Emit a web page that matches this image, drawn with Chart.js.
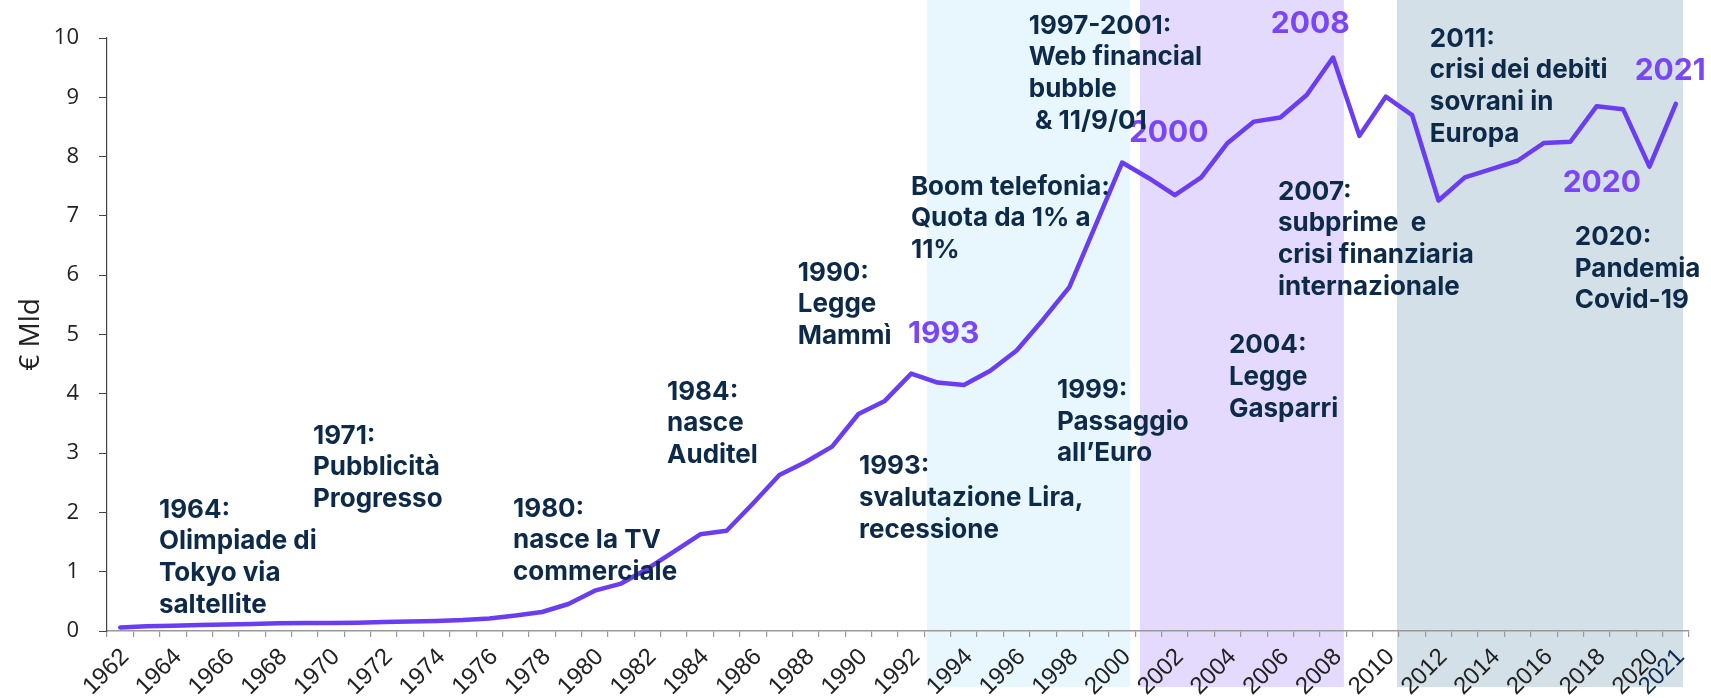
<!DOCTYPE html>
<html><head><meta charset="utf-8">
<script src="https://cdn.jsdelivr.net/npm/chart.js@4.4.0/dist/chart.umd.min.js"></script>
<style>html,body{margin:0;padding:0;background:#fff;}#wrap{width:1711px;height:698px;}</style>
</head><body><div id="wrap"><canvas id="c" width="1711" height="698"></canvas></div>
<script>
const years = [1962,1963,1964,1965,1966,1967,1968,1969,1970,1971,1972,1973,1974,1975,1976,1977,1978,1979,1980,1981,1982,1983,1984,1985,1986,1987,1988,1989,1990,1991,1992,1993,1994,1995,1996,1997,1998,1999,2000,2001,2002,2003,2004,2005,2006,2007,2008,2009,2010,2011,2012,2013,2014,2015,2016,2017,2018,2019,2020,2021];
const values = [0.06,0.08,0.09,0.10,0.11,0.12,0.13,0.135,0.135,0.14,0.15,0.16,0.17,0.185,0.21,0.26,0.32,0.455,0.68,0.80,1.05,1.34,1.63,1.69,2.15,2.63,2.85,3.11,3.66,3.88,4.34,4.19,4.15,4.39,4.73,5.25,5.80,6.85,7.90,7.64,7.35,7.65,8.23,8.59,8.66,9.04,9.67,8.35,9.01,8.70,7.26,7.65,7.79,7.93,8.23,8.25,8.85,8.80,7.83,8.89];
const labelledYears = [1962,1964,1966,1968,1970,1972,1974,1976,1978,1980,1982,1984,1986,1988,1990,1992,1994,1996,1998,2000,2002,2004,2006,2008,2010,2012,2014,2016,2018,2020,2021];
const yTicks = [0,1,2,3,4,5,6,7,8,9,10];
const periodStart = [1993, 2001, 2011];
const periodEnd = [2000, 2008, 2021];
const highlightText = ['1993','2000','2008','2020','2021'];
const noteTexts = [
  ['1964:','Olimpiade di','Tokyo via','saltellite'],
  ['1971:','Pubblicità','Progresso'],
  ['1980:','nasce la TV','commerciale'],
  ['1984:','nasce','Auditel'],
  ['1990:','Legge','Mammì'],
  ['1993:','svalutazione Lira,','recessione'],
  ['Boom telefonia:','Quota da 1% a','11%'],
  ['1997-2001:','Web financial','bubble',' & 11/9/01'],
  ['1999:','Passaggio','all’Euro'],
  ['2004:','Legge','Gasparri'],
  ['2007:','subprime  e','crisi finanziaria','internazionale'],
  ['2011:','crisi dei debiti','sovrani in','Europa'],
  ['2020:','Pandemia','Covid-19']
];

// layout (anchor in axis units: category index, value)
const highlightAnchor = [[29.88,4.86],[38.26,8.24],[43.64,10.08],[54.71,7.41],[57.44,9.30]];
const noteAnchor = [[1.47,1.91],[7.31,3.16],[14.9,1.93],[20.74,3.90],[25.7,5.91],[28.02,2.64],[29.99,7.355],[34.46,10.07],[35.53,3.93],[42.05,4.68],[43.91,7.27],[49.67,9.853],[55.17,6.51]];
const bandColors = ['#E8F7FE','#E3DAFD','#D3E0E7'];
const bandInset = [[2.5,5.4],[4.6,2.4],[-2,6]];
const NAVY = '#0E2A49', PURPLE = '#7A45F6', LINE = '#6A3CF2';

const overlay = {
  id: 'overlay',
  beforeDraw(chart) {
    const {ctx, chartArea, scales: {x}} = chart;
    ctx.save();
    periodStart.forEach((s, i) => {
      const l = x.getPixelForValue(years.indexOf(s) - 0.5) + bandInset[i][0];
      const r = x.getPixelForValue(years.indexOf(periodEnd[i]) + 0.5) - bandInset[i][1];
      ctx.fillStyle = bandColors[i];
      ctx.fillRect(l, 0, r - l, chartArea.bottom + 56);
    });
    ctx.restore();
  },
  afterDatasetsDraw(chart) {
    const {ctx, scales: {x, y}} = chart;
    ctx.save();
    ctx.textAlign = 'left';
    ctx.textBaseline = 'alphabetic';
    ctx.font = '700 30px Inter';
    ctx.fillStyle = PURPLE;
    highlightText.forEach((t, i) => {
      ctx.fillText(t, x.getPixelForValue(highlightAnchor[i][0]), y.getPixelForValue(highlightAnchor[i][1]));
    });
    ctx.font = '700 26px Inter';
    ctx.fillStyle = NAVY;
    noteTexts.forEach((lines, i) => {
      const px = x.getPixelForValue(noteAnchor[i][0]);
      const py = y.getPixelForValue(noteAnchor[i][1]);
      lines.forEach((t, k) => ctx.fillText(t, px, py + k * 31.6));
    });
    ctx.restore();
  }
};

new Chart(document.getElementById('c'), {
  type: 'line',
  data: {
    labels: years.map(String),
    datasets: [{
      data: values,
      borderColor: LINE,
      borderWidth: 4.5,
      pointRadius: 0,
      tension: 0,
      borderCapStyle: 'round',
      borderJoinStyle: 'round',
      fill: false
    }]
  },
  options: {
    responsive: false,
    animation: false,
    layout: {padding: {top: 38, right: 22, left: 0, bottom: 0}},
    plugins: {legend: {display: false}, tooltip: {enabled: false}},
    scales: {
      x: {
        offset: true,
        grid: {offset: true, drawOnChartArea: false, drawTicks: true, tickLength: 6, color: '#999', lineWidth: 1.2},
        border: {display: true, color: '#999', width: 1.5},
        ticks: {
          autoSkip: false, maxRotation: 45, minRotation: 45, padding: 6, labelOffset: 5,
          font: {family: 'Liberation Sans', size: 24},
          color: (c) => c.index === years.length - 1 ? NAVY : '#222',
          callback: (v, i) => labelledYears.includes(years[i]) ? String(years[i]) : ''
        },
        afterFit: (s) => { s.height = 67; }
      },
      y: {
        min: 0, max: 10,
        afterBuildTicks: (s) => { s.ticks = yTicks.map(v => ({value: v})); },
        grid: {drawOnChartArea: false, drawTicks: true, tickLength: 8, color: '#444'},
        border: {display: true, color: '#444', width: 1.2},
        ticks: {font: {family: 'Open Sans', size: 22}, color: '#222', padding: 20},
        title: {display: true, text: '€ Mld', font: {family: 'Open Sans', size: 28}, color: '#222', padding: {top: 14, bottom: 0}},
        afterFit: (s) => { s.width = 107; }
      }
    }
  },
  plugins: [overlay]
});
</script></body></html>
